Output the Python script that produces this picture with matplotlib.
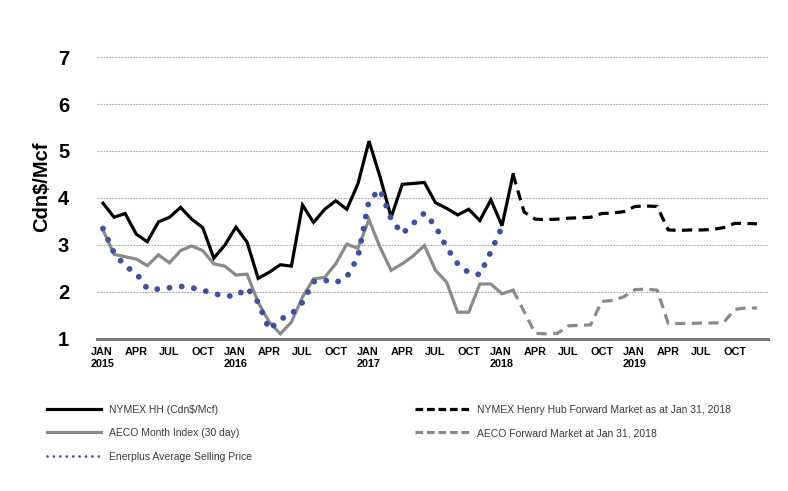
""" Gas prices: NYMEX HH, AECO and Enerplus selling price with forward curves
"""

import matplotlib
matplotlib.use("Agg")
from matplotlib import pyplot as plt
from matplotlib.lines import Line2D

plt.rcParams['font.family'] = ['Liberation Sans', 'DejaVu Sans']

# monthly values, Jan 2015 onwards (Cdn$/Mcf)
nymex_hh = [3.89, 3.59, 3.67, 3.23, 3.07, 3.49, 3.59, 3.80, 3.55, 3.37, 2.72, 3.00,
            3.38, 3.06, 2.29, 2.42, 2.58, 2.55, 3.85, 3.48, 3.76, 3.94, 3.76, 4.30,
            5.21, 4.45, 3.59, 4.29, 4.31, 4.33, 3.90, 3.78, 3.64, 3.76, 3.52, 3.96,
            3.41, 4.50]
aeco = [3.32, 2.80, 2.75, 2.70, 2.56, 2.79, 2.62, 2.88, 2.98, 2.88, 2.60, 2.55,
        2.36, 2.38, 1.78, 1.36, 1.11, 1.36, 1.89, 2.28, 2.31, 2.60, 3.02, 2.93,
        3.54, 2.95, 2.46, 2.60, 2.77, 2.99, 2.46, 2.21, 1.57, 1.57, 2.17, 2.17,
        1.96, 2.04]
enerplus = [3.35, 2.83, 2.55, 2.40, 2.07, 2.06, 2.09, 2.12, 2.09, 2.04, 1.96, 1.92,
            1.91, 2.09, 1.78, 1.20, 1.42, 1.53, 1.78, 2.22, 2.25, 2.20, 2.32, 2.74,
            3.95, 4.18, 3.55, 3.24, 3.46, 3.68, 3.40, 2.95, 2.60, 2.41, 2.37, 2.86,
            3.38]

# forward curves, Feb 2018 to Dec 2019
fwd_start = 37
nymex_fwd = [4.50, 3.70, 3.55, 3.54, 3.55, 3.57, 3.58, 3.59, 3.67, 3.68, 3.71, 3.82,
             3.83, 3.82, 3.32, 3.31, 3.32, 3.32, 3.33, 3.37, 3.46, 3.46, 3.45]
aeco_fwd = [2.04, 1.58, 1.12, 1.11, 1.12, 1.28, 1.29, 1.30, 1.80, 1.82, 1.90, 2.05,
            2.06, 2.04, 1.33, 1.33, 1.33, 1.34, 1.34, 1.35, 1.63, 1.66, 1.66]

months = ['JAN', 'APR', 'JUL', 'OCT']
years = [2015, 2016, 2017, 2018, 2019]

black = '#000000'
grey = '#8a8a8a'
blue = '#3d4fa6'

fig = plt.figure(figsize=(7.88, 4.91), dpi=100)
ax = fig.add_axes([0.1231, 0.3096, 0.8515, 0.5743])

x_act = list(range(len(nymex_hh)))
x_ep = list(range(len(enerplus)))
x_fwd = list(range(fwd_start, fwd_start + len(nymex_fwd)))

ax.plot(x_act, aeco, color=grey, lw=2.3, zorder=3, solid_joinstyle='miter')
ax.plot(x_fwd, aeco_fwd, color=grey, lw=2.3, ls=(0, (3.2, 2.0)), zorder=3)
ax.plot(x_act, nymex_hh, color=black, lw=2.3, zorder=4, solid_joinstyle='miter')
ax.plot(x_fwd, nymex_fwd, color=black, lw=2.3, ls=(0, (3.2, 2.0)), zorder=4)
ax.plot(x_ep, enerplus, color=blue, lw=4.2, ls=(0, (0.01, 2.1)),
        dash_capstyle='round', zorder=5)

ax.set_xlim(-0.54, 60.0)
ax.set_ylim(1, 7)

# grid and axis
for v in range(2, 8):
    ax.axhline(v, color='#a5a5a5', lw=0.8, ls=(0, (1.5, 1.2)), zorder=1)
for s in ['top', 'right', 'left']:
    ax.spines[s].set_visible(False)
ax.spines['bottom'].set_color('#7a7a7a')
ax.spines['bottom'].set_linewidth(2.2)

ax.set_yticks(range(1, 8))
ax.set_yticklabels([str(v) for v in range(1, 8)], fontsize=14.5, fontweight='bold')
ax.tick_params(axis='y', length=0, pad=20)

ticks = list(range(0, 60, 3))
labels = []
for t in ticks:
    lab = months[(t % 12) // 3]
    if t % 12 == 0:
        lab += '\n' + str(years[t // 12])
    labels.append(lab)
ax.set_xticks(ticks)
ax.set_xticklabels(labels, fontsize=7.8, fontweight='bold', ha='center',
                   multialignment='left', linespacing=1.25)
ax.tick_params(axis='x', length=0, pad=6)

ax.set_ylabel('Cdn$/Mcf', fontsize=14.5, fontweight='bold')
ax.yaxis.set_label_coords(-0.068, 0.54)

# legends
h_left = [Line2D([], [], color=black, lw=2.3),
          Line2D([], [], color=grey, lw=2.3),
          Line2D([], [], color=blue, lw=2.0, ls=(0, (0.01, 2.3)), dash_capstyle='round')]
h_right = [Line2D([], [], color=black, lw=2.3, ls=(0, (2.4, 1.2))),
           Line2D([], [], color=grey, lw=2.3, ls=(0, (2.4, 1.2)))]

leg_kw = dict(frameon=False, fontsize=7.5, handlelength=5.2, handletextpad=0.8,
              labelspacing=1.3, borderpad=0, borderaxespad=0, loc='upper left',
              labelcolor='#3a3a3a')
fig.legend(h_left, ['NYMEX HH (Cdn$/Mcf)', 'AECO Month Index (30 day)',
                    'Enerplus Average Selling Price'],
           bbox_to_anchor=(0.0596, 0.176), **leg_kw)
fig.legend(h_right, ['NYMEX Henry Hub Forward Market as at Jan 31, 2018',
                     'AECO Forward Market at Jan 31, 2018'],
           bbox_to_anchor=(0.5266, 0.176), **leg_kw)

fig.savefig('out.png', dpi=100)
